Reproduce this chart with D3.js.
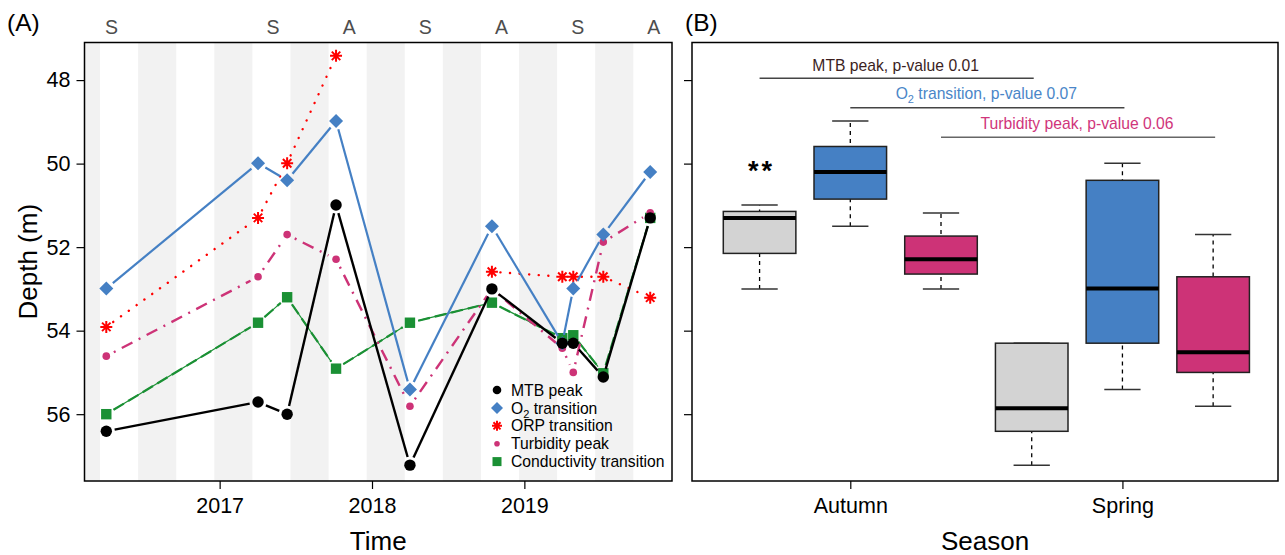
<!DOCTYPE html>
<html>
<head>
<meta charset="utf-8">
<script src="https://cdn.jsdelivr.net/npm/d3@7"></script>
<style>
  html, body { margin: 0; padding: 0; background: #fff; }
  svg { display: block; font-family: "Liberation Sans", Arial, Helvetica, sans-serif; }
</style>
</head>
<body>
<script>
// ---- data -------------------------------------------------------------
// sampling campaigns (decimal year) and the depth (m) of each profile feature
const sampleDates   = [2016.256, 2017.252, 2017.443, 2017.764, 2018.249, 2018.787, 2019.249, 2019.321, 2019.518, 2019.826];
const sampleSeasons = ["Spring", "Spring", "Spring", "Autumn", "Spring", "Autumn", "Spring", "Spring", null, "Autumn"];

const mtbPeak                = [56.41, 55.71, 56.00, 50.99, 57.22, 53.00, 54.30, 54.30, 55.11, 51.30];
const o2Transition           = [52.99, 49.99, 50.40, 48.98, 55.41, 51.50, 54.30, 52.99, 51.70, 50.20];
const orpTransition          = [53.91, 51.30, 49.99, 47.42, null,  52.59, 52.71, 52.71, 52.71, 53.21];
const turbidityPeak          = [54.61, 52.71, 51.70, 52.29, 55.81, 53.00, 54.42, 55.00, 51.88, 51.18];
const conductivityTransition = [56.00, 53.81, 53.20, 54.91, 53.81, 53.33, 54.18, 54.11, 55.02, 51.30];

const depthTicks = [48, 50, 52, 54, 56];
const yearTicks = [2017, 2018, 2019];

// season letters along the top of panel A
const seasonMarks = ["S", "S", "A", "S", "A", "S", "A"];
const seasonMarkDates = [2016.29, 2017.35, 2017.85, 2018.35, 2018.85, 2019.35, 2019.85];

// shaded periods (start, decimal year), each a quarter year long
const bandStarts = [2015.965, 2016.465, 2016.965, 2017.465, 2017.965, 2018.465, 2018.965, 2019.465];
const bandLength = 0.25;

// panel B
const boxSeasons = ["Autumn", "Spring"];
const pValues = [0.01, 0.07, 0.06];

// ---- layout -----------------------------------------------------------
const W = 1285, H = 555;
const A = { left: 84.5, right: 672, top: 42.5, bottom: 481 };
const B = { left: 692, right: 1278, top: 42.5, bottom: 481 };
const FONT_TICK = 21.5, FONT_TITLE = 26, FONT_SMALL = 15.7;

const COL = {
  mtb: "#000000", o2: "#4580c4", orp: "#ff0000", turb: "#cd3377", cond: "#1a9034",
  grayBox: "#d3d3d3", band: "#f2f2f2"
};

const svg = d3.select("body").append("svg").attr("width", W).attr("height", H);

const xTime = d3.scaleLinear().domain([2016.113, 2019.969]).range([A.left, A.right]);
const yDepth = d3.scaleLinear().domain([47.1, 57.6]).range([A.top, A.bottom]);
const xBox = d3.scaleLinear().domain([0.255, 6.715]).range([B.left, B.right]);

// ---- markers ----------------------------------------------------------
function drawMarker(g, type, x, y, s, color) {
  if (type === "circle") {
    g.append("circle").attr("cx", x).attr("cy", y).attr("r", s).attr("fill", color);
  } else if (type === "diamond") {
    g.append("path").attr("d", `M${x},${y - s}L${x + s},${y}L${x},${y + s}L${x - s},${y}Z`).attr("fill", color);
  } else if (type === "square") {
    g.append("rect").attr("x", x - s).attr("y", y - s).attr("width", 2 * s).attr("height", 2 * s).attr("fill", color);
  } else if (type === "star") {
    const d = s / Math.SQRT2;
    g.append("path")
      .attr("d", `M${x},${y - s}L${x},${y + s}M${x - s},${y}L${x + s},${y}` +
                 `M${x - d},${y - d}L${x + d},${y + d}M${x - d},${y + d}L${x + d},${y - d}`)
      .attr("stroke", color).attr("stroke-width", 2).attr("fill", "none");
  }
}

const series = [
  { name: "MTB peak", values: mtbPeak, color: COL.mtb, marker: "circle", size: 5.7, legendSize: 4.3, width: 2.4, dash: null },
  { name: "O2 transition", values: o2Transition, color: COL.o2, marker: "diamond", size: 7, legendSize: 6, width: 2.2, dash: null },
  { name: "ORP transition", values: orpTransition, color: COL.orp, marker: "star", size: 6, legendSize: 5, width: 2.4, dash: "0.1,9.5", cap: "round" },
  { name: "Turbidity peak", values: turbidityPeak, color: COL.turb, marker: "circle", size: 3.8, legendSize: 2.8, width: 2.4, dash: "2,7,12,7" },
  { name: "Conductivity transition", values: conductivityTransition, color: COL.cond, marker: "square", size: 5.2, legendSize: 4.5, width: 2.2, dash: "12,5", underlay: 1.2 }
];

// ---- panel A ----------------------------------------------------------
svg.append("clipPath").attr("id", "clipA").append("rect")
  .attr("x", A.left).attr("y", A.top).attr("width", A.right - A.left).attr("height", A.bottom - A.top);

const gA = svg.append("g");
gA.append("g").attr("clip-path", "url(#clipA)")
  .selectAll("rect").data(bandStarts).join("rect")
  .attr("x", d => xTime(d))
  .attr("width", d => xTime(d + bandLength) - xTime(d))
  .attr("y", A.top).attr("height", A.bottom - A.top)
  .attr("fill", COL.band);

const GAP = 8.5;
const gSeries = gA.append("g").attr("clip-path", "url(#clipA)");
series.slice().reverse().forEach(s => {
  const g = gSeries.append("g");
  const pts = sampleDates.map((d, i) => s.values[i] == null ? null : [xTime(d), yDepth(s.values[i])]);
  for (let i = 0; i < pts.length - 1; i++) {
    const p = pts[i], q = pts[i + 1];
    if (!p || !q) continue;
    const dx = q[0] - p[0], dy = q[1] - p[1], len = Math.hypot(dx, dy);
    if (len <= 2 * GAP) continue;
    const ux = dx / len, uy = dy / len;
    const d = `M${p[0] + ux * GAP},${p[1] + uy * GAP}L${q[0] - ux * GAP},${q[1] - uy * GAP}`;
    if (s.underlay) {
      g.append("path").attr("d", d).attr("stroke", s.color).attr("stroke-width", s.underlay).attr("fill", "none");
    }
    g.append("path").attr("d", d)
      .attr("stroke", s.color).attr("stroke-width", s.width).attr("fill", "none")
      .attr("stroke-dasharray", s.dash)
      .attr("stroke-linecap", s.cap || "butt");
  }
  pts.forEach(p => { if (p) drawMarker(g, s.marker, p[0], p[1], s.size, s.color); });
});

// axes
gA.append("g").attr("transform", `translate(${A.left},0)`)
  .call(d3.axisLeft(yDepth).tickValues(depthTicks).tickSize(8).tickPadding(6));
gA.append("g").attr("transform", `translate(0,${A.bottom})`)
  .call(d3.axisBottom(xTime).tickValues(yearTicks).tickFormat(d3.format("d")).tickSize(8).tickPadding(9));

// season letters
gA.append("g").selectAll("text").data(seasonMarks).join("text")
  .attr("x", (d, i) => xTime(seasonMarkDates[i]))
  .attr("y", 34)
  .attr("text-anchor", "middle")
  .attr("font-size", 19.5).attr("fill", "#4d4d4d")
  .text(d => d);

// legend
const legend = gA.append("g");
series.forEach((s, i) => {
  const cy = 390 + i * 17.9;
  drawMarker(legend, s.marker, 497, cy, s.legendSize, s.color);
  const t = legend.append("text").attr("x", 511).attr("y", cy + 5.6).attr("font-size", FONT_SMALL).attr("fill", "#000");
  if (s.name.startsWith("O2")) {
    t.append("tspan").text("O");
    t.append("tspan").attr("font-size", 11).attr("dy", 4).text("2");
    t.append("tspan").attr("dy", -4).text(s.name.slice(2));
  } else {
    t.text(s.name);
  }
});

gA.append("rect").attr("x", A.left).attr("y", A.top)
  .attr("width", A.right - A.left).attr("height", A.bottom - A.top)
  .attr("fill", "none").attr("stroke", "#000").attr("stroke-width", 1.5);

gA.append("text").attr("x", 7).attr("y", 31).attr("font-size", 24.5).text("(A)");
gA.append("text").attr("x", (A.left + A.right) / 2).attr("y", 550)
  .attr("text-anchor", "middle").attr("font-size", FONT_TITLE).text("Time");
gA.append("text").attr("transform", `translate(37,${(A.top + A.bottom) / 2}) rotate(-90)`)
  .attr("text-anchor", "middle").attr("font-size", FONT_TITLE).text("Depth (m)");

// ---- panel B ----------------------------------------------------------
function fivenum(arr) {
  const x = arr.filter(v => v != null).sort((a, b) => a - b);
  const n = x.length;
  const n4 = Math.floor((n + 3) / 2) / 2;
  return [1, n4, (n + 1) / 2, n + 1 - n4, n].map(v => 0.5 * (x[Math.floor(v) - 1] + x[Math.ceil(v) - 1]));
}

const boxVariables = [
  { key: "MTB peak", values: mtbPeak, fill: COL.grayBox },
  { key: "O2 transition", values: o2Transition, fill: COL.o2 },
  { key: "Turbidity peak", values: turbidityPeak, fill: COL.turb }
];

const gB = svg.append("g");
const boxW = (xBox(1.4) - xBox(1));   // half width = 0.4 unit
boxSeasons.forEach((season, si) => {
  boxVariables.forEach((v, vi) => {
    const pos = si * 3 + vi + 1;
    const vals = v.values.filter((d, i) => sampleSeasons[i] === season);
    const [lo, q1, med, q3, hi] = fivenum(vals);
    const cx = xBox(pos);
    const g = gB.append("g");
    // whiskers
    g.append("line").attr("x1", cx).attr("x2", cx).attr("y1", yDepth(hi)).attr("y2", yDepth(q1))
      .attr("stroke", "#000").attr("stroke-width", 1.3).attr("stroke-dasharray", "4,4");
    g.append("line").attr("x1", cx).attr("x2", cx).attr("y1", yDepth(q3)).attr("y2", yDepth(lo))
      .attr("stroke", "#000").attr("stroke-width", 1.3).attr("stroke-dasharray", "4,4");
    // staples
    [lo, hi].forEach(w => {
      g.append("line").attr("x1", cx - boxW / 2).attr("x2", cx + boxW / 2)
        .attr("y1", yDepth(w)).attr("y2", yDepth(w))
        .attr("stroke", "#333").attr("stroke-width", 1.5);
    });
    // box
    g.append("rect").attr("x", cx - boxW).attr("width", 2 * boxW)
      .attr("y", yDepth(q1)).attr("height", yDepth(q3) - yDepth(q1))
      .attr("fill", v.fill).attr("stroke", "#222").attr("stroke-width", 1.5);
    // median
    g.append("line").attr("x1", cx - boxW).attr("x2", cx + boxW)
      .attr("y1", yDepth(med)).attr("y2", yDepth(med))
      .attr("stroke", "#000").attr("stroke-width", 4);
  });
});

// significance of the season difference
const tests = [
  { from: 1, to: 4, lineY: 78.3, textY: 70.7, color: "#3b1e1e", text: [["MTB peak, p-value " + pValues[0].toFixed(2)]] },
  { from: 2, to: 5, lineY: 107.7, textY: 99.3, color: "#4a86c8", text: [["O"], ["2", "sub"], [" transition, p-value " + pValues[1].toFixed(2)]] },
  { from: 3, to: 6, lineY: 137.3, textY: 128.7, color: "#d0357b", text: [["Turbidity peak, p-value " + pValues[2].toFixed(2)]] }
];
tests.forEach((t, i) => {
  gB.append("line").attr("x1", xBox(t.from)).attr("x2", xBox(t.to) + 2)
    .attr("y1", t.lineY).attr("y2", t.lineY)
    .attr("stroke", i === 2 ? "#666" : "#444").attr("stroke-width", 1.6);
  const tx = gB.append("text").attr("x", (xBox(t.from) + xBox(t.to)) / 2).attr("y", t.textY)
    .attr("text-anchor", "middle").attr("font-size", FONT_SMALL).attr("fill", t.color);
  t.text.forEach(([str, kind]) => {
    if (kind === "sub") tx.append("tspan").attr("font-size", 11).attr("dy", 4).text(str);
    else if (tx.selectAll("tspan").size() > 0 && str.startsWith(" ")) tx.append("tspan").attr("dy", -4).text(str);
    else tx.append("tspan").text(str);
  });
});

gB.append("text").attr("x", xBox(1) + 2).attr("y", 180)
  .attr("text-anchor", "middle").attr("font-size", 27).attr("font-weight", "bold")
  .attr("letter-spacing", 3).text("**");

gB.append("g").attr("transform", `translate(${B.left},0)`)
  .call(d3.axisLeft(yDepth).tickValues(depthTicks).tickSize(8).tickFormat(""));
gB.append("g").attr("transform", `translate(0,${B.bottom})`)
  .call(d3.axisBottom(xBox).tickValues([2, 5]).tickFormat((d, i) => boxSeasons[i]).tickSize(8).tickPadding(9));

gB.append("rect").attr("x", B.left).attr("y", B.top)
  .attr("width", B.right - B.left).attr("height", B.bottom - B.top)
  .attr("fill", "none").attr("stroke", "#000").attr("stroke-width", 1.5);

gB.append("text").attr("x", 685).attr("y", 31).attr("font-size", 24.5).text("(B)");
gB.append("text").attr("x", (B.left + B.right) / 2).attr("y", 550)
  .attr("text-anchor", "middle").attr("font-size", FONT_TITLE).text("Season");

// axis styling shared by both panels
svg.selectAll(".domain").remove();
svg.selectAll(".tick line").attr("stroke", "#000").attr("stroke-width", 1.2);
svg.selectAll(".tick text").attr("font-size", FONT_TICK).attr("fill", "#000")
  .attr("font-family", "\"Liberation Sans\", Arial, Helvetica, sans-serif");
</script>
</body>
</html>
